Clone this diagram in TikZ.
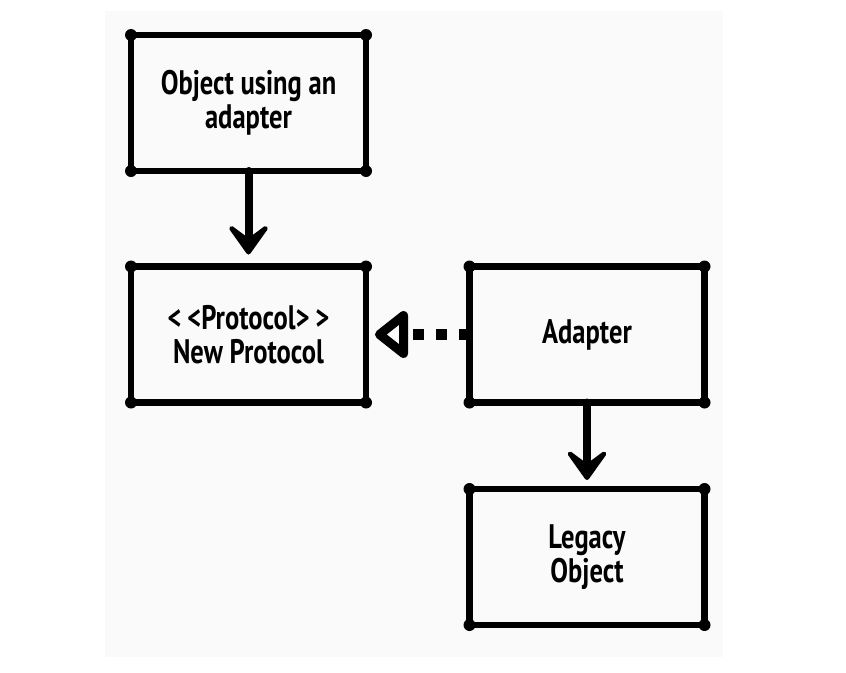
\documentclass[tikz,border=0pt]{standalone}
\usepackage{fontspec}
\setmainfont{PT Sans}[FakeStretch=0.78]
\usetikzlibrary{arrows.meta}
\definecolor{bg}{RGB}{250,250,250}
\begin{document}
\begin{tikzpicture}[x=1pt,y=-1pt,
  box/.style={draw=black, line width=6.5pt, line join=round, outer sep=0pt,
    minimum width=235pt, minimum height=136pt, align=center, inner sep=0pt,
    font=\fontsize{34}{34}\selectfont\bfseries},
  conn/.style={draw=black, line width=8pt, line cap=round,
    -{Stealth[length=38pt, width=54pt, inset=20pt, round]}},
  dconn/.style={draw=black, line width=11pt, dash pattern=on 11pt off 12pt,
    -{Triangle[open, length=36pt, width=54pt, line width=9pt, round]}},
  corner/.style={fill=black}
]
\fill[white] (0,0) rectangle (846,672);
\fill[bg] (105,11) rectangle (723,657);
\useasboundingbox (0,0) rectangle (846,672);

\node[box] (obj) at (248.5,103) {Object using an\\adapter};
\node[box] (proto) at (248.5,334.5) {<\,<Protocol>\,>\\New Protocol};
\node[box] (adapter) at (587,334.5) {Adapter};
\node[box] (legacy) at (587,557) {Legacy\\Object};

\foreach \n in {obj,proto,adapter,legacy}
  \foreach \c in {north west,north east,south west,south east}
    \fill[corner] (\n.\c) circle (6pt);

\draw[conn, shorten >=12pt] (obj.south) -- (proto.north);
\draw[conn, shorten >=9pt] (adapter.south) -- (legacy.north);
\draw[dconn, shorten >=9pt] (adapter.west) -- (proto.east);
\end{tikzpicture}
\end{document}
